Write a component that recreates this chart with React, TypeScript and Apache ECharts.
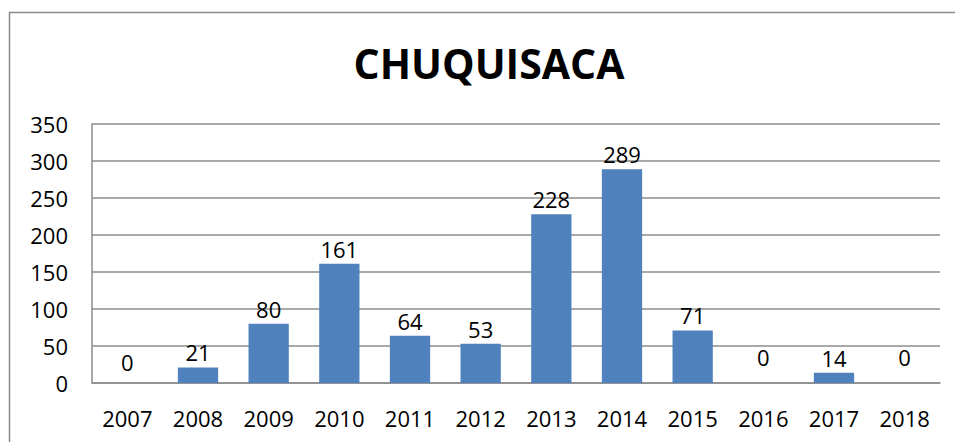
import React, { useEffect, useRef } from "react";
import * as echarts from "echarts";

const titleText = "CHUQUISACA";
const years = ["2007", "2008", "2009", "2010", "2011", "2012", "2013", "2014", "2015", "2016", "2017", "2018"];
const values = [0, 21, 80, 161, 64, 53, 228, 289, 71, 0, 14, 0];

const FONT = "'Open Sans', sans-serif";

export default function App() {
  const ref = useRef<HTMLDivElement>(null);
  useEffect(() => {
    if (!ref.current) return;
    const chart = echarts.init(ref.current, null, { renderer: "svg" });
    const barData = values.map((v, i) =>
      v === 0 ? { value: v, label: { distance: i === 0 ? 10 : 15 } } : v
    );
    chart.setOption({
      animation: false,
      backgroundColor: "#ffffff",
      graphic: [
        {
          type: "rect",
          shape: { x: 9.5, y: 12.5, width: 1000, height: 500 },
          style: { fill: "none", stroke: "#8a8a8a", lineWidth: 1.5 },
          silent: true,
        },
        {
          type: "text",
          x: 489,
          y: 63,
          style: {
            text: titleText,
            textAlign: "center",
            textVerticalAlign: "middle",
            fontFamily: FONT,
            fontSize: 41,
            fontWeight: "bold",
            fill: "#000",
          },
          silent: true,
        },
      ],
      grid: { left: 92, right: 15, top: 124, bottom: 59, containLabel: false },
      xAxis: {
        type: "category",
        data: years,
        axisLine: { show: true, lineStyle: { color: "#8c8c8c", width: 1.5 } },
        axisTick: { show: false },
        axisLabel: { fontFamily: FONT, fontSize: 22, color: "#000", margin: 24 },
      },
      yAxis: {
        type: "value",
        min: 0,
        max: 350,
        interval: 50,
        axisLine: { show: true, lineStyle: { color: "#8c8c8c", width: 1.5 } },
        axisTick: { show: false },
        axisLabel: { fontFamily: FONT, fontSize: 22, color: "#000", margin: 24 },
        splitLine: { show: true, lineStyle: { color: "#8c8c8c", width: 1.5 } },
      },
      series: [
        {
          type: "bar",
          data: barData,
          barCategoryGap: "43%",
          itemStyle: { color: "#4F81BD" },
          label: {
            show: true,
            position: "top",
            distance: 4,
            fontFamily: FONT,
            fontSize: 22,
            color: "#000",
          },
        },
      ],
    });
    return () => chart.dispose();
  }, []);
  return (
    <div
      ref={ref}
      style={{ position: "fixed", left: 0, top: 0, width: 955, height: 442 }}
    />
  );
}
